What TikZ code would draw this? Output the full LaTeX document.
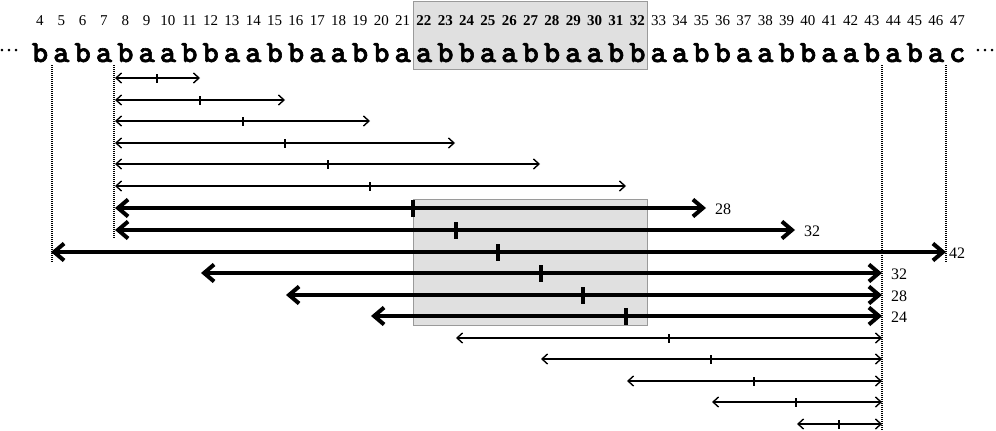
\documentclass[tikz,border=0pt]{standalone}
\usepackage{fontspec}
\setmainfont{Liberation Serif}
\usetikzlibrary{arrows.meta}
\font\monob="[lmmonolt10-bold.otf]:embolden=2" at 31pt
\definecolor{boxfill}{HTML}{E0E0E0}
\definecolor{boxline}{HTML}{9A9A9A}
\tikzset{
  graybox/.style={fill=boxfill,draw=boxline,line width=1pt},
  numlbl/.style={inner sep=0pt,anchor=base,font=\fontsize{15}{15}\selectfont},
  numbold/.style={numlbl,font=\fontsize{15}{15}\selectfont\bfseries},
  letter/.style={inner sep=0pt,anchor=base,font=\monob},
  dots/.style={inner sep=0pt,anchor=base west,font=\fontsize{21}{21}\selectfont},
  lenlbl/.style={inner sep=0pt,anchor=west,font=\fontsize{16}{16}\selectfont},
  guide/.style={line width=1.2pt,dash pattern=on 1pt off 1pt},
  thin/.style={line width=1.4pt,{Straight Barb[length=5.5pt,width=10pt]}-{Straight Barb[length=5.5pt,width=10pt]}},
  thick/.style={line width=4pt,{Straight Barb[length=10pt,width=17pt]}-{Straight Barb[length=10pt,width=17pt]}},
  thintick/.style={line width=1.4pt},
  thicktick/.style={line width=4pt},
}
\begin{document}
\begin{tikzpicture}[x=1pt,y=-1pt]
\useasboundingbox (0,0) rectangle (996,431);
% gray boxes
\draw[graybox] (413,1) rectangle (647,69);
\draw[graybox] (413,199) rectangle (647,325);
% position numbers
\foreach \i in {4,...,21,33,34,...,47}
  \node[numlbl] (n\i) at ({-45.333+21.333*\i},25) {\i};
\foreach \i in {22,...,32}
  \node[numbold] (n\i) at ({-45.333+21.333*\i},25) {\i};
% letters
\foreach \i/\c in {4/b,5/a,6/b,7/a,8/b,9/a,10/a,11/b,12/b,13/a,14/a,15/b,16/b,17/a,18/a,19/b,20/b,21/a,22/a,23/b,24/b,25/a,26/a,27/b,28/b,29/a,30/a,31/b,32/b,33/a,34/a,35/b,36/b,37/a,38/a,39/b,40/b,41/a,42/a,43/b,44/a,45/b,46/a,47/c}
  \node[letter] (c\i) at ({-45.333+21.333*\i},62) {\c};
\node[dots] (dl) at (-1.5,51) {…};
\node[dots] (dr) at (974.5,51) {…};
% dotted guides
\coordinate (g1t) at (52,65);  \coordinate (g1b) at (52,263);
\coordinate (g2t) at (114,65); \coordinate (g2b) at (114,238);
\coordinate (g3t) at (882,65); \coordinate (g3b) at (882,431);
\coordinate (g4t) at (946,65); \coordinate (g4b) at (946,263);
\foreach \g in {1,2,3,4} \draw[guide] (g\g t) -- (g\g b);
% upper thin arrows
\foreach \k/\y/\r/\t in {1/78/200/157, 2/100/285/200, 3/121/370/243, 4/143/455/285, 5/164/540/328, 6/186/626/370} {
  \coordinate (a\k l) at (115,\y);
  \coordinate (a\k r) at (\r,\y);
  \coordinate (a\k t) at (\t,\y);
  \draw[thin] (a\k l) -- (a\k r);
  \draw[thintick] ([yshift=-4.5pt]a\k t) -- ([yshift=4.5pt]a\k t);
}
% thick arrows
\foreach \k/\y/\l/\r/\t in {7/208/115/706/413, 8/230/115/795/456, 9/252/51/946/498, 10/273/201/882/541, 11/295/286/882/583, 12/316/371/882/626} {
  \coordinate (b\k l) at (\l,\y);
  \coordinate (b\k r) at (\r,\y);
  \coordinate (b\k t) at (\t,\y);
  \draw[thick] (b\k l) -- (b\k r);
  \draw[thicktick] ([yshift=-8.5pt]b\k t) -- ([yshift=8.5pt]b\k t);
}
\node[lenlbl] (s7) at (715,209) {28};
\node[lenlbl] (s8) at (804,231) {32};
\node[lenlbl] (s9) at (949,253) {42};
\node[lenlbl] (s10) at (891,274) {32};
\node[lenlbl] (s11) at (891,296) {28};
\node[lenlbl] (s12) at (891,317) {24};
% lower thin arrows
\foreach \k/\y/\l/\t in {13/338/456/669, 14/359/541/711, 15/381/627/754, 16/402/712/796, 17/424/797/839} {
  \coordinate (d\k l) at (\l,\y);
  \coordinate (d\k r) at (882,\y);
  \coordinate (d\k t) at (\t,\y);
  \draw[thin] (d\k l) -- (d\k r);
  \draw[thintick] ([yshift=-4.5pt]d\k t) -- ([yshift=4.5pt]d\k t);
}
\end{tikzpicture}
\end{document}
